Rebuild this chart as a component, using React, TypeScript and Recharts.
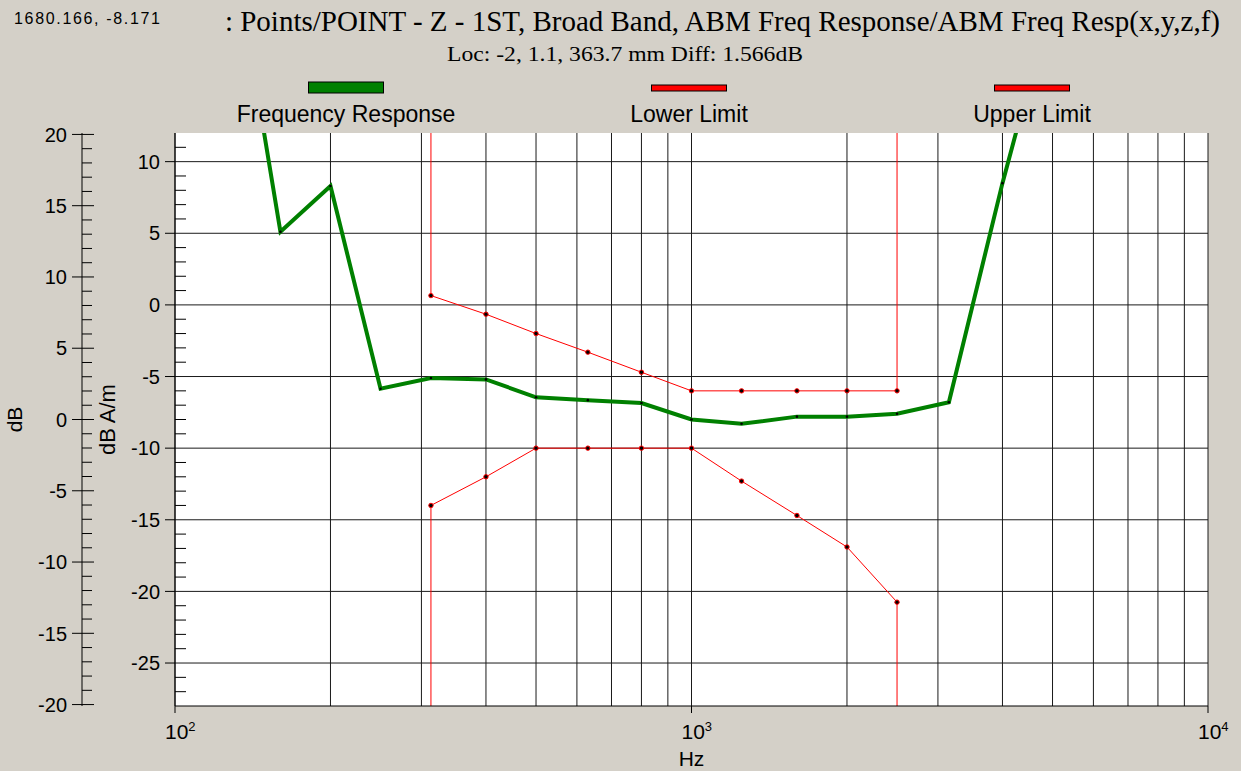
import { CartesianGrid, Line, LineChart, XAxis, YAxis } from "recharts";

// frequency response (dB A/m)
const responseHz = [125, 160, 200, 250, 313, 400, 500, 630, 800, 1000, 1250, 1600, 2000, 2500, 3150, 4000, 5000];
const responseDb = [28.5, 5.1, 8.3, -5.85, -5.1, -5.2, -6.45, -6.65, -6.85, -8.0, -8.3, -7.8, -7.8, -7.6, -6.8, 8.5, 21.5];

// limit masks, the first/last points run off the plot to give the vertical edges
const lowerHz = [313, 313, 400, 500, 630, 800, 1000, 1250, 1600, 2000, 2500, 2500];
const lowerDb = [-60, -14, -12, -10, -10, -10, -10, -12.3, -14.7, -16.9, -20.75, -60];
const upperHz = [313, 313, 400, 500, 630, 800, 1000, 1250, 1600, 2000, 2500, 2500];
const upperDb = [60, 0.65, -0.65, -2, -3.3, -4.7, -6, -6, -6, -6, -6, 60];

const xTicks = [100, 1000, 10000];
const gridHz = [100, 200, 300, 400, 500, 600, 700, 800, 900, 1000, 2000, 3000, 4000, 5000, 6000, 7000, 8000, 9000, 10000];
const gridDb = [10, 5, 0, -5, -10, -15, -20, -25];
const innerTicks = [11, 10, 9, 8, 7, 6, 5, 4, 3, 2, 1, 0, -1, -2, -3, -4, -5, -6, -7, -8, -9, -10, -11, -12, -13, -14, -15, -16, -17, -18, -19, -20, -21, -22, -23, -24, -25, -26, -27];
const outerTicks = [20, 19, 18, 17, 16, 15, 14, 13, 12, 11, 10, 9, 8, 7, 6, 5, 4, 3, 2, 1, 0, -1, -2, -3, -4, -5, -6, -7, -8, -9, -10, -11, -12, -13, -14, -15, -16, -17, -18, -19, -20];

const INNER_DOMAIN: [number, number] = [-28, 12];
const SANS = "'Liberation Sans', Arial, sans-serif";
const SERIF = "'Liberation Serif', 'Times New Roman', serif";
const BG = "#D4D0C8";

const toPoints = (hz: number[], db: number[]) => hz.map((f, i) => ({ f, v: db[i] }));

const responseData = toPoints(responseHz, responseDb);
const lowerData = toPoints(lowerHz, lowerDb);
const upperData = toPoints(upperHz, upperDb);

const makeDot =
  (r: number, stroke: string) =>
  (props: any) => {
    const { cx, cy, index, payload } = props;
    const v = payload?.v;
    if (cx == null || cy == null || v > INNER_DOMAIN[1] || v < INNER_DOMAIN[0]) {
      return <g key={`dot-${index}`} />;
    }
    return (
      <circle
        key={`dot-${index}`}
        cx={cx}
        cy={cy}
        r={r}
        fill="#000"
        stroke={stroke}
        strokeWidth={stroke === "none" ? 0 : 1}
      />
    );
  };

const InnerTick = (props: any) => {
  const { x, y, payload } = props;
  const v = payload.value;
  if (v % 5 === 0) {
    return (
      <g>
        <line x1={x - 10} x2={x} y1={y} y2={y} stroke="#000" />
        <text x={x - 15} y={y} dy="0.36em" textAnchor="end" fontSize={20} fontFamily={SANS} fill="#000">
          {v}
        </text>
      </g>
    );
  }
  return <line x1={x} x2={x + 11} y1={y} y2={y} stroke="#000" />;
};

const OuterTick = (props: any) => {
  const { x, y, payload } = props;
  const v = payload.value;
  if (v % 5 === 0) {
    return (
      <g>
        <line x1={x - 10} x2={x + 12} y1={y} y2={y} stroke="#000" />
        <text x={x - 15} y={y} dy="0.36em" textAnchor="end" fontSize={20} fontFamily={SANS} fill="#000">
          {v}
        </text>
      </g>
    );
  }
  return <line x1={x} x2={x + 10} y1={y} y2={y} stroke="#000" />;
};

const XTick = (props: any) => {
  const { x, y, payload } = props;
  const exp = Math.round(Math.log10(payload.value));
  return (
    <text x={x - 10} y={y + 26} textAnchor="start" fontSize={21} fontFamily={SANS} fill="#000">
      10
      <tspan fontSize={13} dy={-8}>
        {exp}
      </tspan>
    </text>
  );
};

const legendItems = [
  { label: "Frequency Response", color: "#008000", cx: 346, barH: 11, barY: 82 },
  { label: "Lower Limit", color: "#FF0000", cx: 689, barH: 6, barY: 85 },
  { label: "Upper Limit", color: "#FF0000", cx: 1032, barH: 6, barY: 85 },
];

export default function App() {
  return (
    <div style={{ position: "absolute", left: 0, top: 0, width: 1241, height: 771, background: BG }}>
      <svg width={1241} height={130} style={{ position: "absolute", left: 0, top: 0 }}>
        <text x={1220} y={31} textAnchor="end" fontSize={29} fontFamily={SERIF} fill="#000">
          : Points/POINT - Z - 1ST, Broad Band, ABM Freq Response/ABM Freq Resp(x,y,z,f)
        </text>
        <rect x={10} y={6} width={152} height={20} fill={BG} />
        <text x={14} y={24} fontSize={16} fontFamily={SANS} fill="#000" textLength={146} lengthAdjust="spacing">
          1680.166, -8.171
        </text>
        <text x={447} y={61} fontSize={20} fontFamily={SERIF} fill="#000" textLength={356} lengthAdjust="spacingAndGlyphs">
          Loc: -2, 1.1, 363.7 mm Diff: 1.566dB
        </text>
        {legendItems.map((item) => (
          <g key={item.label}>
            <rect
              x={item.cx - 37.5}
              y={item.barY}
              width={75}
              height={item.barH}
              fill={item.color}
              stroke="#000"
              strokeWidth={1}
            />
            <text x={item.cx} y={122} textAnchor="middle" fontSize={23} fontFamily={SANS} fill="#000">
              {item.label}
            </text>
          </g>
        ))}
      </svg>
      <LineChart
        width={1241}
        height={771}
        margin={{ top: 133, right: 33, bottom: 0, left: 0 }}
        style={{ position: "absolute", left: 0, top: 0 }}
      >
        <CartesianGrid
          yAxisId="inner"
          horizontalValues={gridDb}
          verticalValues={gridHz}
          stroke="#1a1a1a"
          fill="#fff"
          fillOpacity={1}
        />
        <XAxis
          dataKey="f"
          type="number"
          scale="log"
          domain={[100, 10000]}
          allowDataOverflow
          ticks={xTicks}
          interval={0}
          height={65}
          tickSize={7}
          tickMargin={0}
          tickLine={{ stroke: "#000" }}
          axisLine={{ stroke: "#000" }}
          tick={<XTick />}
          label={{ value: "Hz", position: "insideBottom", offset: 5, fontSize: 21, fontFamily: SANS, fill: "#000" }}
        />
        <YAxis
          yAxisId="inner"
          type="number"
          domain={INNER_DOMAIN}
          allowDataOverflow
          ticks={innerTicks}
          interval={0}
          width={93}
          tickSize={0}
          tickMargin={0}
          tickLine={false}
          axisLine={{ stroke: "#000" }}
          tick={<InnerTick />}
          label={{ value: "dB A/m", angle: -90, position: "center", dx: -21, fontSize: 22, fontFamily: SANS, fill: "#000" }}
        />
        <YAxis
          yAxisId="outer"
          type="number"
          domain={[-20.1, 20.1]}
          allowDataOverflow
          ticks={outerTicks}
          interval={0}
          width={82}
          tickSize={0}
          tickMargin={0}
          tickLine={false}
          axisLine={{ stroke: "#000" }}
          tick={<OuterTick />}
          label={{ value: "dB", angle: -90, position: "center", dx: -26, fontSize: 21, fontFamily: SANS, fill: "#000" }}
        />
        <Line
          yAxisId="inner"
          data={lowerData}
          dataKey="v"
          name="Lower Limit"
          type="linear"
          stroke="#FF0000"
          strokeWidth={1}
          dot={makeDot(2.2, "#FF0000")}
          activeDot={false}
          isAnimationActive={false}
        />
        <Line
          yAxisId="inner"
          data={upperData}
          dataKey="v"
          name="Upper Limit"
          type="linear"
          stroke="#FF0000"
          strokeWidth={1}
          dot={makeDot(2.2, "#FF0000")}
          activeDot={false}
          isAnimationActive={false}
        />
        <Line
          yAxisId="inner"
          data={responseData}
          dataKey="v"
          name="Frequency Response"
          type="linear"
          stroke="#008000"
          strokeWidth={4}
          dot={makeDot(1.3, "none")}
          activeDot={false}
          isAnimationActive={false}
        />
      </LineChart>
    </div>
  );
}
